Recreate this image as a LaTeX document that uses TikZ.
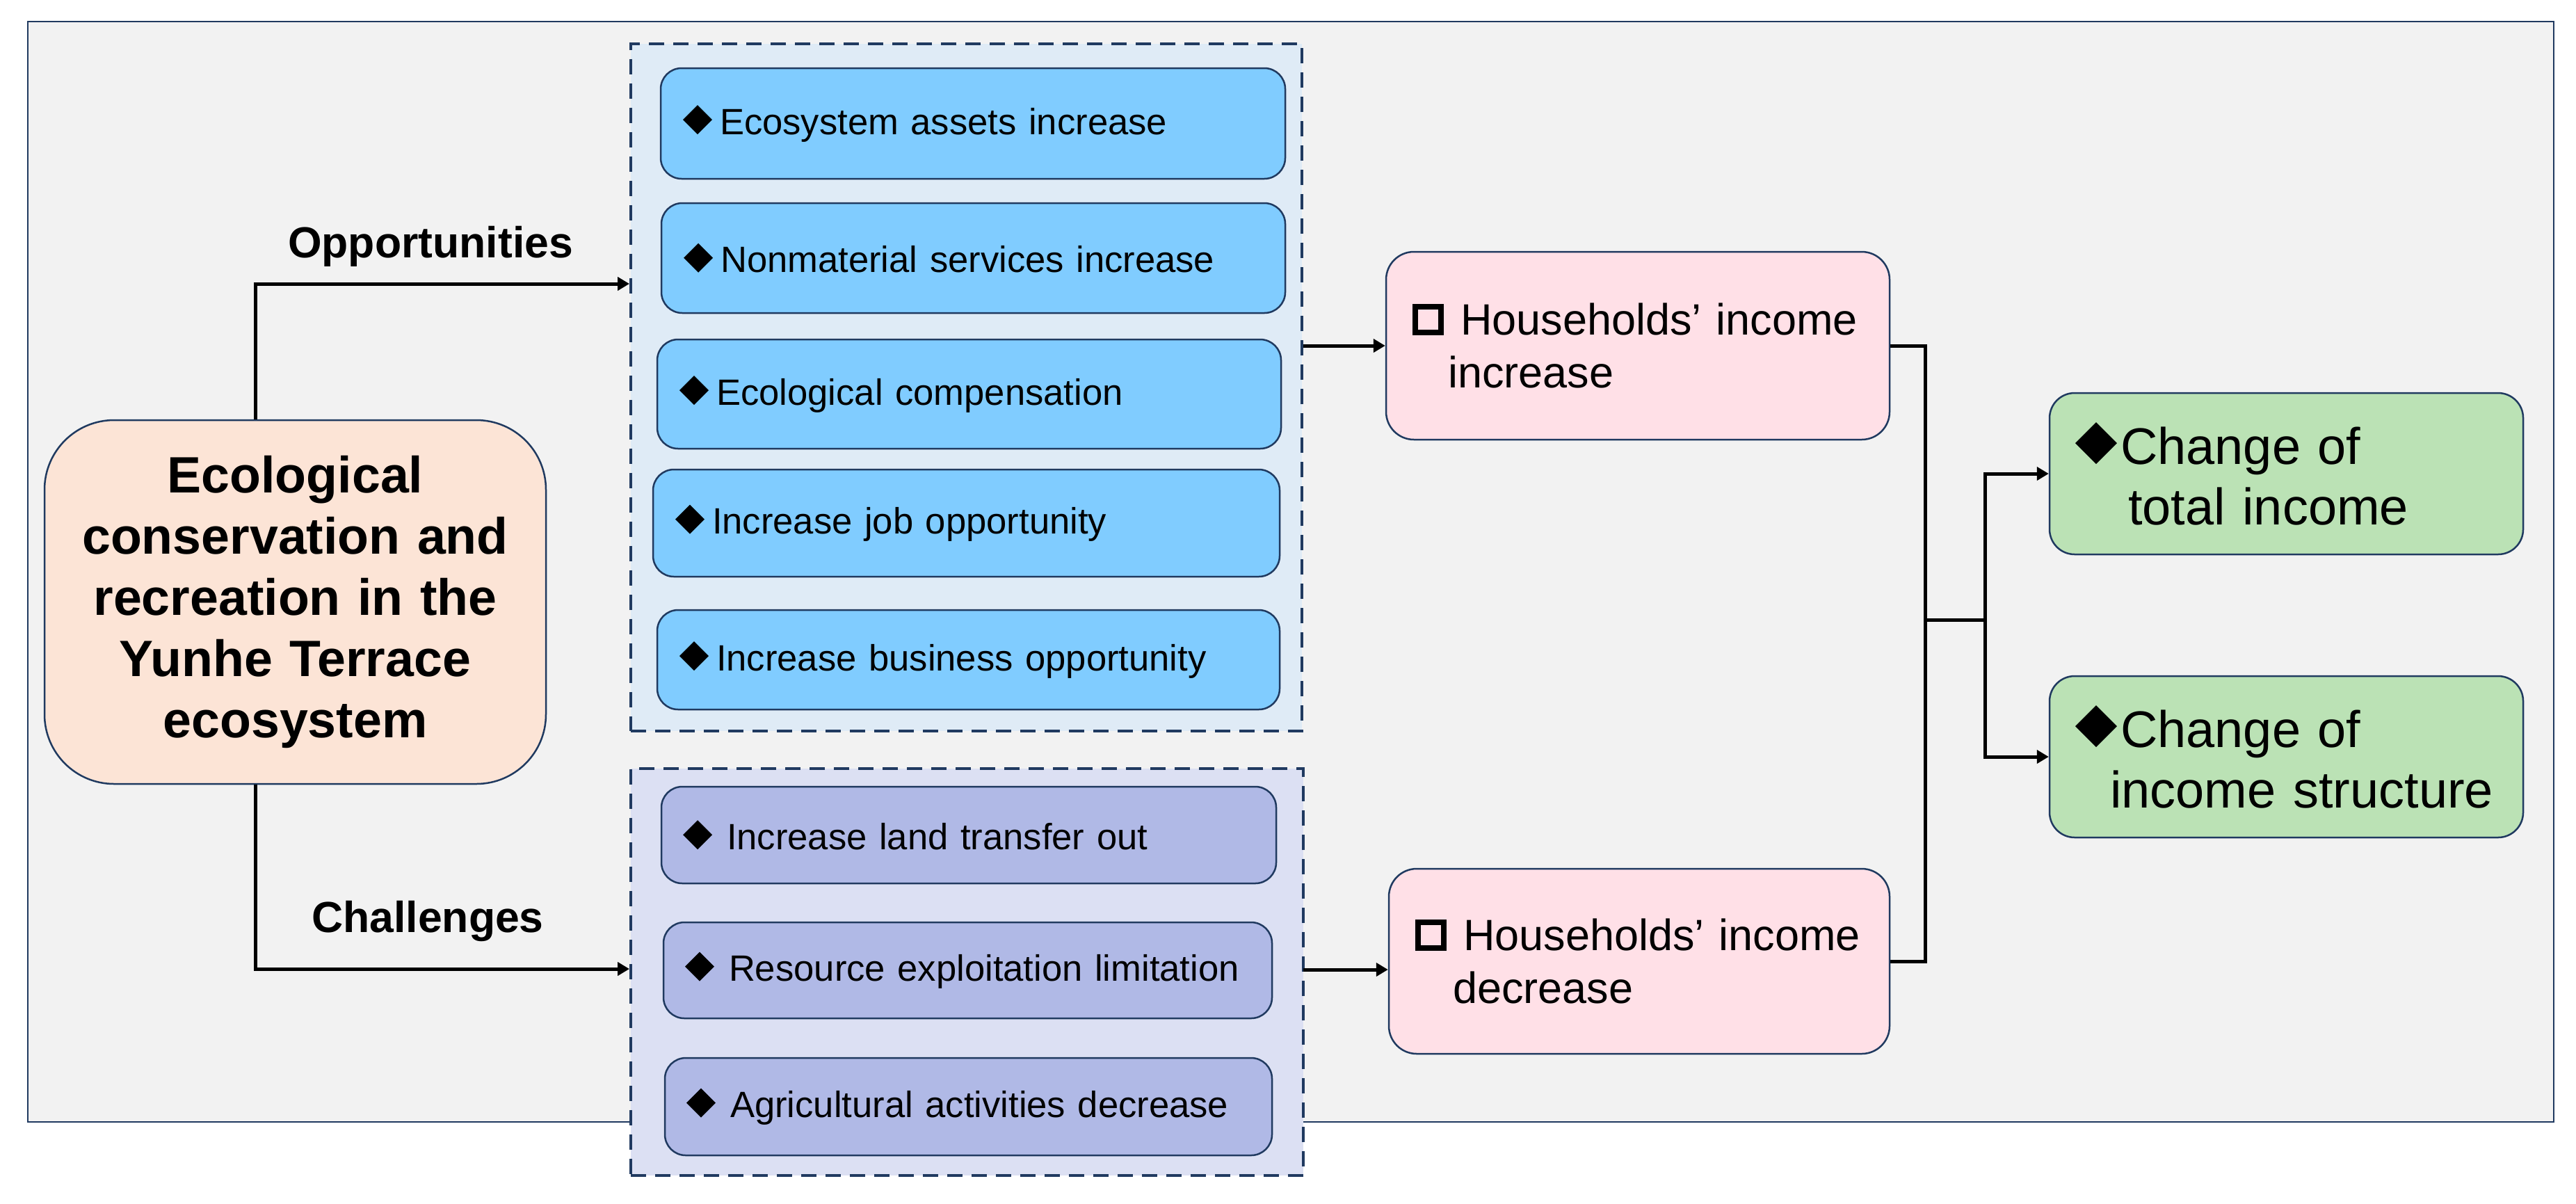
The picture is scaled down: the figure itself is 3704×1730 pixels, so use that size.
\documentclass[tikz,border=0pt]{standalone}
\usepackage{fontspec}
\setmainfont{Liberation Sans}
\usetikzlibrary{arrows.meta}
\definecolor{bgfill}{HTML}{F2F2F2}
\definecolor{bord}{HTML}{203A60}
\definecolor{oppfill}{HTML}{DFEBF6}
\definecolor{bluefill}{HTML}{80CCFF}
\definecolor{chalfill}{HTML}{DCE0F3}
\definecolor{purfill}{HTML}{B0B9E6}
\definecolor{peach}{HTML}{FCE4D6}
\definecolor{pinkfill}{HTML}{FFE0E7}
\definecolor{greenfill}{HTML}{BBE2B5}
\newcommand\dmd[1]{\rotatebox{45}{\rule{#1}{#1}}}
\newcommand\hsq{\raisebox{0.8mm}{\setlength\fboxrule{0.8mm}\setlength\fboxsep{0pt}\fbox{\rule{0pt}{2.9mm}\hspace{2.9mm}}}}
\tikzset{
  base box/.style={draw=bord, line width=0.25mm, inner ysep=0pt, align=left},
  bluebox/.style={base box, fill=bluefill, rounded corners=3mm, inner xsep=3.2mm,
    font=\fontsize{5.26mm}{6.3mm}\selectfont},
  purbox/.style={base box, fill=purfill, rounded corners=3mm, inner xsep=3.1mm,
    font=\fontsize{5.26mm}{6.3mm}\selectfont},
  pinkbox/.style={base box, fill=pinkfill, rounded corners=4mm, inner xsep=3.8mm,
    font=\fontsize{6.3mm}{7.6mm}\selectfont},
  greenbox/.style={base box, fill=greenfill, rounded corners=3.6mm, inner xsep=3.7mm,
    font=\fontsize{7.4mm}{8.7mm}\selectfont},
  groupbox/.style={draw=bord, line width=0.4mm, dash pattern=on 2.2mm off 1.3mm},
  conn/.style={line width=0.5mm, -{Triangle[length=1.7mm,width=1.9mm]}},
  plain/.style={line width=0.5mm},
  lbl/.style={font=\fontsize{6.25mm}{7.5mm}\selectfont\bfseries, anchor=base, inner sep=0pt}
}
\begin{document}
\begin{tikzpicture}[x=0.1mm,y=-0.1mm]
\useasboundingbox (0,0) rectangle (3704,1730);
\fill[white] (0,0) rectangle (3704,1730);
\draw[fill=bgfill, draw=bord, line width=0.2mm] (40,31) rectangle (3672,1613);

% group boxes
\node[groupbox, fill=oppfill, minimum width=96.5mm, minimum height=98.8mm] (oppbox) at (1389.5,557) {};
\node[groupbox, fill=chalfill, minimum width=96.7mm, minimum height=58.5mm] (chalbox) at (1390.5,1397.5) {};

% left node
\node[base box, fill=peach, rounded corners=10mm, align=center, inner xsep=3mm,
  minimum width=72.1mm, minimum height=52.3mm, text width=66.1mm,
  font=\fontsize{7.35mm}{8.8mm}\selectfont\bfseries] (left) at (424.5,865.5)
  {Ecological\\conservation and\\recreation in the\\Yunhe Terrace\\ecosystem};

% opportunities
\node[bluebox, minimum width=89.8mm, minimum height=15.9mm, text width=83.4mm] (b1) at (1399,177.5)
  {\dmd{2.97mm}\hspace{1.1mm}Ecosystem assets increase};
\node[bluebox, minimum width=89.7mm, minimum height=15.8mm, text width=83.3mm] (b2) at (1399.5,371)
  {\dmd{2.97mm}\hspace{1.1mm}Nonmaterial services increase};
\node[bluebox, minimum width=89.7mm, minimum height=15.7mm, text width=83.3mm] (b3) at (1393.5,566.5)
  {\dmd{2.97mm}\hspace{1.1mm}Ecological compensation};
\node[bluebox, minimum width=90.1mm, minimum height=15.4mm, text width=83.7mm] (b4) at (1389.5,752)
  {\dmd{2.97mm}\hspace{1.1mm}Increase job opportunity};
\node[bluebox, minimum width=89.5mm, minimum height=14.3mm, text width=83.1mm] (b5) at (1392.5,948.5)
  {\dmd{2.97mm}\hspace{1.1mm}Increase business opportunity};

% challenges
\node[purbox, minimum width=88.4mm, minimum height=13.9mm, text width=82.2mm] (p1) at (1393,1200.5)
  {\dmd{2.97mm}\hspace{2.1mm}Increase land transfer out};
\node[purbox, minimum width=87.5mm, minimum height=13.8mm, text width=81.3mm] (p2) at (1391.5,1395)
  {\dmd{2.97mm}\hspace{2.1mm}Resource exploitation limitation};
\node[purbox, minimum width=87.3mm, minimum height=14.0mm, text width=81.1mm] (p3) at (1392.5,1591)
  {\dmd{2.97mm}\hspace{2.1mm}Agricultural activities decrease};

% households
\node[pinkbox, minimum width=72.4mm, minimum height=27.0mm, text width=64.8mm] (pink1) at (2355,497)
  {\hsq\hspace{2.4mm}Households’ income\\\hspace*{5.1mm}increase};
\node[pinkbox, minimum width=72.0mm, minimum height=26.6mm, text width=64.4mm] (pink2) at (2357,1382)
  {\hsq\hspace{2.4mm}Households’ income\\\hspace*{5.4mm}decrease};

% outcomes
\node[greenbox, minimum width=68.1mm, minimum height=23.2mm, text width=60.7mm] (green1) at (3287.5,681)
  {\dmd{4.24mm}\hspace{0.5mm}Change of\\\hspace*{7.6mm}total income};
\node[greenbox, minimum width=68.1mm, minimum height=23.2mm, text width=60.7mm] (green2) at (3287.5,1088)
  {\dmd{4.24mm}\hspace{0.5mm}Change of\\\hspace*{5.0mm}income structure};

% labels
\node[lbl] (opplbl) at (619,370) {Opportunities};
\node[lbl] (challbl) at (615,1340) {Challenges};

% connectors
\coordinate (o1) at (367,408);
\coordinate (c1) at (367,1393);
\coordinate (c2) at (1874,1394);
\coordinate (j) at (2768,891);
\coordinate (k) at (2854,891);
\draw[conn] (left.north -| o1) -- (o1) -- (o1 -| oppbox.west);
\draw[conn] (left.south -| c1) -- (c1) -- (c1 -| chalbox.west);
\draw[conn] (oppbox.east |- pink1.west) -- (pink1.west);
\draw[conn] (c2) -- (c2 -| pink2.west);
\draw[plain] (pink1.east) -| (j |- pink2.east) -- (pink2.east);
\draw[plain] (j) -- (k);
\draw[conn] (k) |- (green1.west);
\draw[conn] (k) |- (green2.west);
\end{tikzpicture}
\end{document}
